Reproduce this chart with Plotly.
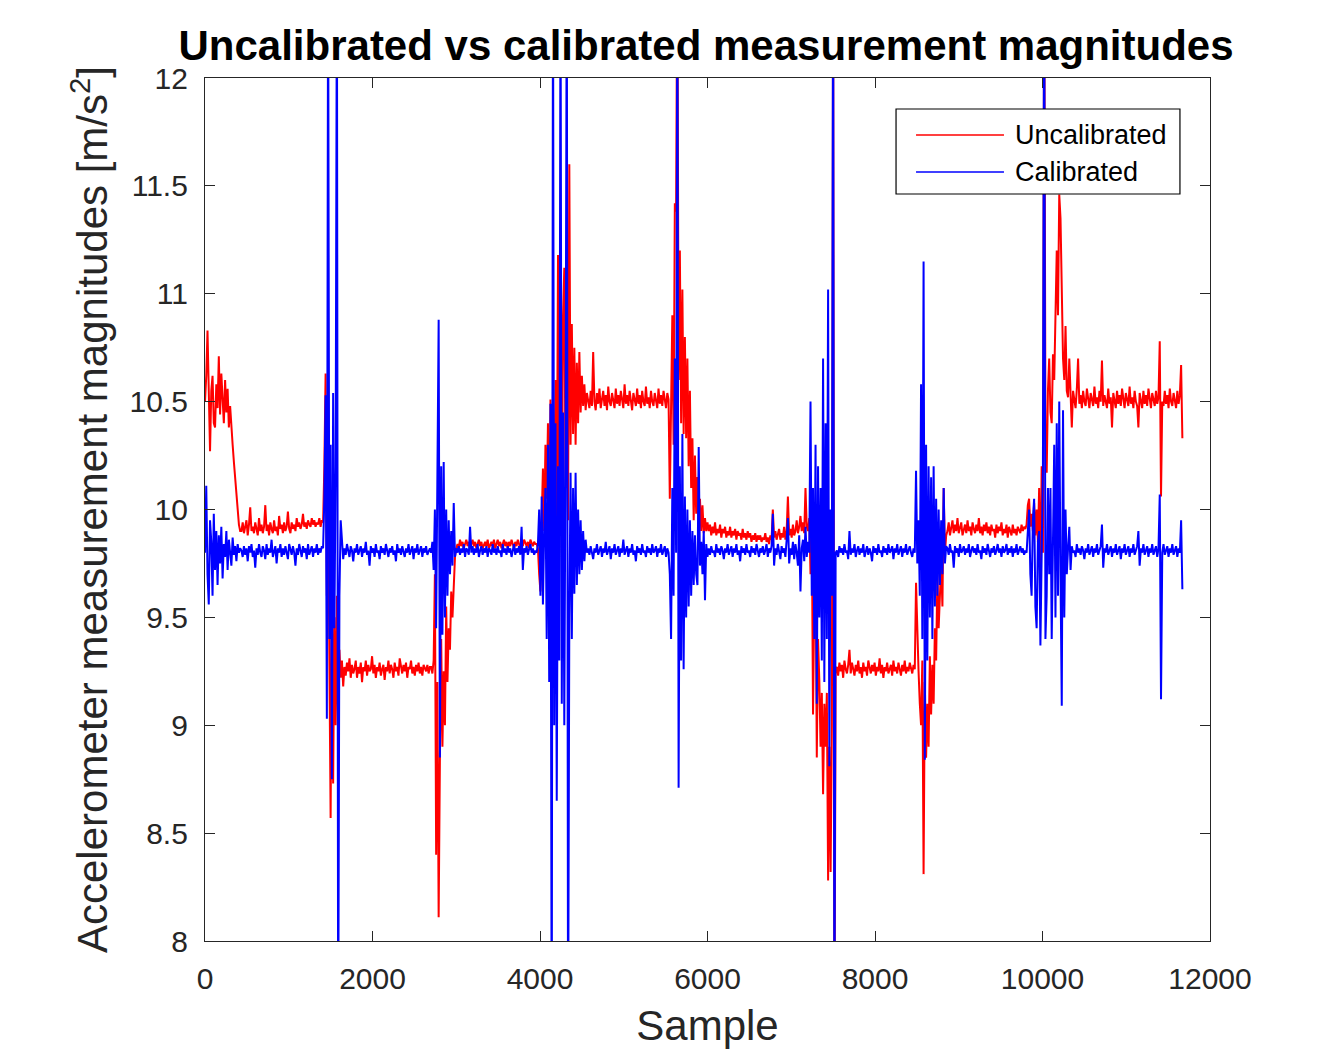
import plotly.graph_objects as go

STEP = 15  # samples between stored values inside each segment

# first sample number of each stored segment
segment_starts = [0, 435, 1410, 1635, 2700, 3015, 3960, 4575,
                  5550, 6015, 7230, 7545, 8490, 8865, 9810, 10305]

# ---------------- Uncalibrated magnitudes ----------------
uncal_s01 = [10.50, 10.62, 10.83, 10.45, 10.27, 10.55, 10.62, 10.40, 10.38, 10.58,
             10.47, 10.71, 10.44, 10.63, 10.52, 10.40, 10.60, 10.45, 10.56, 10.38,
             10.48, 10.36, 10.30, 10.22, 10.15, 10.06, 9.98, 9.93, 9.90]
uncal_s02 = [9.90, 9.94, 9.89, 9.92, 9.95, 9.88, 9.93, 10.01, 9.90, 9.92,
             9.89, 9.94, 9.91, 9.88, 9.96, 9.90, 9.93, 9.89, 9.92, 10.02,
             9.90, 9.93, 9.88, 9.94, 9.91, 9.89, 9.95, 9.90, 9.92, 9.88,
             9.97, 9.91, 9.93, 9.89, 9.94, 9.90, 9.92, 9.99, 9.91, 9.89,
             9.94, 9.91, 9.93, 9.90, 9.96, 9.92, 9.94, 9.91, 9.93, 9.98,
             9.92, 9.94, 9.91, 9.95, 9.93, 9.92, 9.96, 9.93, 9.95, 9.92,
             9.94, 9.93, 9.96, 9.92, 9.95]
uncal_s03 = [9.94, 10.20, 10.63, 9.60, 10.10, 9.30, 8.57, 9.70, 8.73, 9.50,
             9.00, 9.60, 8.95, 9.35, 9.22]
uncal_s04 = [9.30, 9.18, 9.27, 9.23, 9.29, 9.25, 9.31, 9.22, 9.28, 9.24,
             9.26, 9.30, 9.22, 9.27, 9.24, 9.29, 9.20, 9.27, 9.25, 9.30,
             9.23, 9.28, 9.25, 9.26, 9.32, 9.24, 9.28, 9.22, 9.27, 9.25,
             9.29, 9.23, 9.26, 9.28, 9.21, 9.27, 9.25, 9.30, 9.24, 9.28,
             9.26, 9.22, 9.29, 9.25, 9.27, 9.23, 9.31, 9.26, 9.24, 9.28,
             9.25, 9.29, 9.22, 9.27, 9.26, 9.30, 9.24, 9.27, 9.23, 9.28,
             9.25, 9.29, 9.24, 9.27, 9.23, 9.28, 9.26, 9.25, 9.28, 9.24,
             9.27]
uncal_s05 = [9.27, 9.24, 9.30, 9.70, 8.40, 9.20, 8.11, 8.85, 9.40, 8.90,
             9.25, 9.00, 9.55, 9.20, 9.45, 9.35, 9.62, 9.50, 9.70, 9.78,
             9.82]
uncal_s06 = [9.84, 9.82, 9.86, 9.83, 9.85, 9.82, 9.84, 9.86, 9.83, 9.85,
             9.82, 9.84, 9.86, 9.83, 9.85, 9.82, 9.84, 9.86, 9.83, 9.85,
             9.82, 9.84, 9.85, 9.83, 9.86, 9.82, 9.84, 9.85, 9.83, 9.86,
             9.82, 9.84, 9.86, 9.83, 9.85, 9.82, 9.84, 9.86, 9.83, 9.85,
             9.82, 9.85, 9.83, 9.86, 9.84, 9.82, 9.85, 9.83, 9.86, 9.84,
             9.82, 9.85, 9.83, 9.86, 9.84, 9.83, 9.85, 9.82, 9.86, 9.84,
             9.83, 9.85, 9.84]
uncal_s07 = [9.84, 9.82, 9.70, 9.62, 9.95, 10.19, 9.90, 10.30, 10.05, 10.40,
             9.80, 10.51, 9.60, 10.55, 9.75, 10.60, 9.90, 11.18, 10.00, 10.70,
             9.80, 10.90, 11.12, 10.10, 10.60, 9.95, 11.60, 10.30, 10.86, 10.35,
             10.75, 10.30, 10.68, 10.40, 10.73, 10.45, 10.62, 10.48, 10.58, 10.46,
             10.54]
uncal_s08 = [10.50, 10.47, 10.55, 10.48, 10.73, 10.50, 10.46, 10.54, 10.49, 10.56,
             10.47, 10.52, 10.55, 10.48, 10.53, 10.46, 10.57, 10.50, 10.48, 10.54,
             10.51, 10.47, 10.56, 10.49, 10.53, 10.48, 10.55, 10.50, 10.47, 10.58,
             10.49, 10.53, 10.48, 10.55, 10.50, 10.46, 10.54, 10.51, 10.48, 10.56,
             10.49, 10.53, 10.47, 10.55, 10.50, 10.48, 10.57, 10.49, 10.52, 10.47,
             10.55, 10.50, 10.48, 10.54, 10.51, 10.47, 10.56, 10.49, 10.53, 10.48,
             10.55, 10.50, 10.47, 10.54, 10.51]
uncal_s09 = [10.05, 10.50, 10.90, 10.30, 11.42, 11.38, 12.6, 10.60, 11.20, 10.40,
             11.02, 10.35, 10.80, 10.33, 10.70, 10.20, 10.55, 10.10, 10.33, 9.95,
             10.25, 9.98, 10.15, 9.92, 10.05, 9.90, 10.02, 9.89, 9.96, 9.90,
             9.94]
uncal_s10 = [9.90, 9.93, 9.88, 9.92, 9.89, 9.94, 9.88, 9.91, 9.89, 9.93,
             9.87, 9.91, 9.89, 9.92, 9.87, 9.90, 9.88, 9.92, 9.87, 9.90,
             9.88, 9.91, 9.86, 9.90, 9.88, 9.89, 9.86, 9.91, 9.87, 9.89,
             9.86, 9.90, 9.87, 9.89, 9.85, 9.88, 9.86, 9.89, 9.85, 9.88,
             9.86, 9.88, 9.85, 9.87, 9.86, 9.89, 9.85, 9.87, 9.84, 9.88,
             9.86, 10.00, 9.87, 9.90, 9.86, 9.88, 9.91, 9.86, 9.89, 9.87,
             9.92, 9.86, 9.90, 10.06, 9.88, 9.91, 9.87, 9.93, 9.88, 9.90,
             9.95, 9.89, 9.92, 9.97, 9.90, 9.94, 9.89, 10.10, 9.92, 9.90,
             9.96]
uncal_s11 = [9.70, 9.95, 9.05, 9.60, 9.75, 8.85, 9.40, 9.21, 8.90, 9.15,
             8.68, 9.10, 8.90, 9.15, 8.28, 8.90, 8.32, 9.00, 12.6, 7.4,
             9.26]
uncal_s12 = [9.27, 9.23, 9.29, 9.25, 9.28, 9.22, 9.30, 9.26, 9.24, 9.28,
             9.35, 9.24, 9.29, 9.26, 9.23, 9.28, 9.25, 9.30, 9.24, 9.27,
             9.22, 9.29, 9.25, 9.27, 9.23, 9.30, 9.26, 9.24, 9.28, 9.25,
             9.29, 9.23, 9.27, 9.25, 9.31, 9.24, 9.28, 9.22, 9.27, 9.25,
             9.29, 9.24, 9.26, 9.28, 9.23, 9.30, 9.25, 9.27, 9.24, 9.29,
             9.26, 9.23, 9.28, 9.25, 9.30, 9.24, 9.27, 9.25, 9.29, 9.26,
             9.24, 9.28, 9.26]
uncal_s13 = [9.66, 9.40, 9.25, 9.10, 9.00, 9.30, 8.31, 9.20, 8.85, 9.10,
             8.90, 9.32, 9.05, 9.28, 9.10, 9.45, 9.30, 9.70, 9.45, 9.60,
             9.75, 9.55, 10.10, 9.80, 9.88]
uncal_s14 = [9.90, 9.94, 9.88, 9.92, 9.95, 9.89, 9.93, 9.90, 9.96, 9.89,
             9.92, 9.94, 9.88, 9.91, 9.93, 9.89, 9.95, 9.90, 9.92, 9.88,
             9.94, 9.91, 9.89, 9.93, 9.90, 9.96, 9.89, 9.92, 9.88, 9.93,
             9.90, 9.94, 9.89, 9.92, 9.88, 9.93, 9.90, 9.91, 9.87, 9.93,
             9.89, 9.92, 9.90, 9.94, 9.88, 9.91, 9.89, 9.93, 9.87, 9.92,
             9.90, 9.88, 9.93, 9.89, 9.91, 9.88, 9.92, 9.90, 9.89, 9.93,
             9.90, 9.92, 9.91]
uncal_s15 = [9.93, 10.02, 10.05, 9.92, 9.98, 9.90, 10.03, 9.88, 10.00, 9.85,
             10.10, 9.56, 10.20, 9.80, 12.6, 10.38, 10.17, 10.55, 10.70, 10.45,
             10.40, 10.72, 10.60, 11.00, 11.20, 10.90, 11.46, 11.35, 11.10, 10.70,
             10.60, 10.85, 10.55]
uncal_s16 = [10.52, 10.70, 10.48, 10.38, 10.55, 10.50, 10.47, 10.56, 10.70, 10.49,
             10.53, 10.47, 10.55, 10.50, 10.48, 10.56, 10.51, 10.47, 10.54, 10.50,
             10.48, 10.57, 10.49, 10.52, 10.47, 10.55, 10.50, 10.69, 10.48, 10.53,
             10.50, 10.47, 10.56, 10.49, 10.52, 10.38, 10.54, 10.50, 10.47, 10.55,
             10.49, 10.53, 10.48, 10.56, 10.50, 10.47, 10.54, 10.51, 10.48, 10.57,
             10.49, 10.52, 10.47, 10.55, 10.50, 10.48, 10.38, 10.54, 10.50, 10.47,
             10.55, 10.49, 10.53, 10.48, 10.56, 10.50, 10.47, 10.54, 10.51, 10.48,
             10.55, 10.49, 10.52, 10.78, 10.06, 10.50, 10.48, 10.55, 10.49, 10.53,
             10.47, 10.56, 10.50, 10.48, 10.54, 10.51, 10.47, 10.55, 10.49, 10.53,
             10.67, 10.33]

# ---------------- Calibrated magnitudes ----------------
cal_s01 = [9.80, 10.11, 9.70, 9.56, 9.95, 9.85, 9.60, 9.98, 9.72, 9.90,
           9.65, 9.88, 9.75, 9.92, 9.68, 9.84, 9.78, 9.90, 9.72, 9.86,
           9.80, 9.74, 9.87, 9.79, 9.83, 9.76, 9.84, 9.80, 9.82]
cal_s02 = [9.81, 9.78, 9.83, 9.79, 9.82, 9.76, 9.83, 9.80, 9.84, 9.78,
           9.81, 9.73, 9.82, 9.79, 9.84, 9.80, 9.78, 9.83, 9.81, 9.77,
           9.84, 9.79, 9.82, 9.80, 9.86, 9.78, 9.81, 9.83, 9.75, 9.82,
           9.80, 9.84, 9.78, 9.82, 9.79, 9.83, 9.80, 9.77, 9.84, 9.81,
           9.79, 9.83, 9.80, 9.74, 9.82, 9.79, 9.84, 9.81, 9.78, 9.83,
           9.80, 9.82, 9.77, 9.84, 9.79, 9.81, 9.83, 9.78, 9.82, 9.80,
           9.84, 9.79, 9.82, 9.80, 9.83]
cal_s03 = [9.82, 10.05, 10.53, 9.03, 12.6, 9.40, 10.30, 8.75, 10.54, 9.45,
           10.20, 12.6, 7.4, 9.60, 9.95]
cal_s04 = [9.83, 9.77, 9.82, 9.79, 9.84, 9.80, 9.78, 9.83, 9.81, 9.76,
           9.82, 9.80, 9.84, 9.79, 9.81, 9.83, 9.78, 9.82, 9.80, 9.85,
           9.79, 9.81, 9.74, 9.83, 9.80, 9.82, 9.78, 9.84, 9.80, 9.81,
           9.77, 9.83, 9.80, 9.82, 9.79, 9.84, 9.81, 9.78, 9.82, 9.80,
           9.83, 9.79, 9.81, 9.76, 9.84, 9.80, 9.82, 9.79, 9.83, 9.81,
           9.78, 9.82, 9.80, 9.84, 9.79, 9.81, 9.83, 9.77, 9.82, 9.80,
           9.84, 9.79, 9.81, 9.83, 9.78, 9.82, 9.80, 9.83, 9.79, 9.81,
           9.82]
cal_s05 = [9.80, 9.85, 9.72, 10.00, 9.45, 10.30, 10.88, 8.85, 10.20, 9.42,
           10.22, 9.50, 10.00, 9.60, 9.95, 9.70, 9.90, 9.74, 10.03, 9.78,
           9.82]
cal_s06 = [9.80, 9.83, 9.79, 9.82, 9.80, 9.84, 9.78, 9.82, 9.81, 9.79,
           9.92, 9.80, 9.83, 9.79, 9.82, 9.80, 9.84, 9.78, 9.81, 9.83,
           9.79, 9.82, 9.80, 9.83, 9.78, 9.82, 9.81, 9.79, 9.84, 9.80,
           9.82, 9.79, 9.83, 9.80, 9.81, 9.78, 9.84, 9.80, 9.82, 9.79,
           9.83, 9.80, 9.82, 9.78, 9.81, 9.84, 9.79, 9.82, 9.80, 9.83,
           9.79, 9.92, 9.72, 9.82, 9.80, 9.83, 9.79, 9.81, 9.84, 9.80,
           9.82, 9.79, 9.81]
cal_s07 = [9.80, 9.84, 10.00, 9.60, 10.06, 9.56, 9.90, 10.10, 9.40, 10.30,
           9.20, 10.49, 7.4, 12.6, 9.00, 10.40, 8.65, 10.20, 9.30, 12.6,
           9.10, 10.45, 9.00, 10.30, 12.6, 7.4, 9.50, 10.17, 9.40, 10.10,
           9.61, 10.17, 9.65, 10.00, 9.70, 9.95, 9.72, 9.90, 9.76, 9.86,
           9.80]
cal_s08 = [9.82, 9.79, 9.83, 9.80, 9.77, 9.82, 9.80, 9.84, 9.79, 9.81,
           9.83, 9.78, 9.82, 9.80, 9.85, 9.79, 9.81, 9.83, 9.77, 9.82,
           9.80, 9.84, 9.79, 9.81, 9.83, 9.78, 9.82, 9.80, 9.86, 9.79,
           9.81, 9.83, 9.78, 9.82, 9.80, 9.84, 9.79, 9.81, 9.76, 9.83,
           9.80, 9.82, 9.79, 9.84, 9.80, 9.81, 9.78, 9.83, 9.80, 9.82,
           9.79, 9.84, 9.80, 9.81, 9.83, 9.78, 9.82, 9.80, 9.84, 9.79,
           9.81, 9.83, 9.78, 9.82, 9.80]
cal_s09 = [9.70, 9.40, 10.10, 9.60, 10.70, 9.80, 12.6, 8.71, 10.20, 9.30,
           10.35, 9.26, 10.06, 9.50, 10.00, 9.55, 9.95, 9.60, 9.90, 9.65,
           9.88, 9.70, 9.65, 10.29, 9.74, 9.85, 9.70, 9.90, 9.58, 9.84,
           9.78]
cal_s10 = [9.82, 9.79, 9.83, 9.80, 9.81, 9.78, 9.84, 9.80, 9.82, 9.79,
           9.83, 9.81, 9.77, 9.82, 9.80, 9.84, 9.79, 9.81, 9.83, 9.78,
           9.82, 9.80, 9.84, 9.79, 9.81, 9.76, 9.83, 9.80, 9.82, 9.79,
           9.84, 9.80, 9.81, 9.78, 9.83, 9.80, 9.82, 9.79, 9.84, 9.81,
           9.78, 9.82, 9.80, 9.83, 9.79, 9.81, 9.84, 9.78, 9.82, 9.80,
           9.83, 9.98, 9.74, 9.82, 9.79, 9.84, 9.80, 9.77, 9.83, 9.80,
           9.82, 9.78, 9.86, 9.96, 9.75, 9.82, 9.79, 9.85, 9.77, 9.84,
           9.80, 9.74, 9.88, 9.62, 9.82, 9.86, 9.76, 9.92, 9.78, 9.85,
           9.80]
cal_s11 = [10.50, 9.60, 10.10, 9.40, 10.30, 9.10, 10.20, 9.50, 10.10, 9.30,
           10.70, 9.20, 10.40, 9.40, 11.02, 8.81, 10.00, 9.60, 12.6, 7.4,
           9.80]
cal_s12 = [9.81, 9.78, 9.83, 9.80, 9.82, 9.79, 9.84, 9.80, 9.81, 9.77,
           9.90, 9.79, 9.82, 9.80, 9.84, 9.78, 9.81, 9.83, 9.79, 9.82,
           9.80, 9.84, 9.78, 9.81, 9.83, 9.79, 9.82, 9.80, 9.76, 9.83,
           9.80, 9.82, 9.79, 9.84, 9.80, 9.81, 9.78, 9.83, 9.80, 9.82,
           9.79, 9.84, 9.80, 9.81, 9.83, 9.77, 9.82, 9.80, 9.84, 9.79,
           9.81, 9.83, 9.78, 9.82, 9.80, 9.84, 9.79, 9.81, 9.83, 9.80,
           9.78, 9.82, 9.80]
cal_s13 = [10.18, 9.75, 9.95, 9.60, 10.58, 9.40, 11.15, 8.84, 10.30, 9.30,
           10.20, 9.50, 10.15, 9.40, 10.20, 9.55, 10.05, 9.60, 10.00, 9.65,
           9.95, 9.70, 10.10, 9.75, 9.83]
cal_s14 = [9.82, 9.79, 9.84, 9.80, 9.81, 9.73, 9.83, 9.80, 9.82, 9.78,
           9.84, 9.80, 9.81, 9.83, 9.79, 9.82, 9.80, 9.84, 9.78, 9.81,
           9.83, 9.80, 9.82, 9.79, 9.84, 9.80, 9.81, 9.77, 9.83, 9.80,
           9.82, 9.79, 9.84, 9.81, 9.78, 9.82, 9.80, 9.83, 9.79, 9.81,
           9.84, 9.80, 9.82, 9.78, 9.83, 9.80, 9.81, 9.84, 9.79, 9.82,
           9.80, 9.83, 9.78, 9.82, 9.80, 9.84, 9.79, 9.81, 9.83, 9.80,
           9.82, 9.79, 9.81]
cal_s15 = [9.80, 9.90, 10.00, 9.70, 9.60, 9.95, 10.05, 9.55, 9.45, 9.85,
           9.90, 9.37, 9.80, 10.20, 12.6, 9.40, 9.60, 10.10, 9.70, 10.10,
           9.40, 10.00, 10.30, 9.50, 10.40, 9.60, 10.50, 9.70, 9.09, 10.46,
           9.50, 10.00, 9.70]
cal_s16 = [9.82, 9.92, 9.72, 9.83, 9.80, 9.81, 9.78, 9.84, 9.80, 9.82,
           9.79, 9.83, 9.81, 9.77, 9.82, 9.80, 9.84, 9.79, 9.81, 9.83,
           9.78, 9.82, 9.80, 9.84, 9.79, 9.81, 9.83, 9.93, 9.73, 9.82,
           9.80, 9.84, 9.79, 9.81, 9.83, 9.78, 9.82, 9.80, 9.84, 9.79,
           9.81, 9.83, 9.77, 9.82, 9.80, 9.84, 9.79, 9.81, 9.83, 9.78,
           9.82, 9.80, 9.84, 9.79, 9.81, 9.83, 9.90, 9.74, 9.82, 9.80,
           9.84, 9.79, 9.81, 9.83, 9.78, 9.82, 9.80, 9.84, 9.79, 9.81,
           9.83, 9.78, 9.82, 10.07, 9.12, 9.80, 9.84, 9.79, 9.81, 9.83,
           9.78, 9.82, 9.80, 9.84, 9.79, 9.81, 9.83, 9.78, 9.82, 9.80,
           9.95, 9.63]

uncal_segments = [uncal_s01, uncal_s02, uncal_s03, uncal_s04, uncal_s05, uncal_s06,
                  uncal_s07, uncal_s08, uncal_s09, uncal_s10, uncal_s11, uncal_s12,
                  uncal_s13, uncal_s14, uncal_s15, uncal_s16]
cal_segments = [cal_s01, cal_s02, cal_s03, cal_s04, cal_s05, cal_s06,
                cal_s07, cal_s08, cal_s09, cal_s10, cal_s11, cal_s12,
                cal_s13, cal_s14, cal_s15, cal_s16]

x_ticks = [0, 2000, 4000, 6000, 8000, 10000, 12000]
y_ticks = [8, 8.5, 9, 9.5, 10, 10.5, 11, 11.5, 12]
series_names = ["Uncalibrated", "Calibrated"]
series_colors = ["#FF0000", "#0000FF"]


def join_segments(segments):
    xs, ys = [], []
    for start, vals in zip(segment_starts, segments):
        for k, v in enumerate(vals):
            xs.append(start + STEP * k)
            ys.append(v)
    return xs, ys


samples_u, uncalibrated = join_segments(uncal_segments)
samples_c, calibrated = join_segments(cal_segments)

FONT = "Liberation Sans, Arial, Helvetica, sans-serif"
AX = "#262626"

fig = go.Figure()
fig.add_trace(go.Scatter(x=samples_u, y=uncalibrated, mode="lines", name=series_names[0],
                         line=dict(color=series_colors[0], width=2.0), showlegend=False))
fig.add_trace(go.Scatter(x=samples_c, y=calibrated, mode="lines", name=series_names[1],
                         line=dict(color=series_colors[1], width=2.0), showlegend=False))

axis_common = dict(showline=True, linecolor=AX, linewidth=1.3, mirror="ticks",
                   ticks="inside", ticklen=10, tickwidth=1.2, tickcolor=AX,
                   showgrid=False, zeroline=False,
                   tickfont=dict(family=FONT, size=30, color=AX))

fig.update_xaxes(range=[0, 12000], tickvals=x_ticks, ticktext=[str(v) for v in x_ticks],
                 ticklabelstandoff=11,
                 title=dict(text="Sample", font=dict(family=FONT, size=42, color=AX), standoff=16),
                 **axis_common)
fig.update_yaxes(range=[8, 12], tickvals=y_ticks, ticktext=[f"{v:g}" for v in y_ticks],
                 ticklabelstandoff=10,
                 title=dict(text="Accelerometer measurement magnitudes [m/s<sup>2</sup>]",
                            font=dict(family=FONT, size=42, color=AX), standoff=8),
                 **axis_common)

# legend box drawn MATLAB style (long line samples)
lx0, lx1, ly0, ly1 = 0.6876, 0.9701, 0.8656, 0.9641
fig.add_shape(type="rect", xref="paper", yref="paper", x0=lx0, x1=lx1, y0=ly0, y1=ly1,
              line=dict(color="#000000", width=1.2), fillcolor="white", layer="above")
for name, color, yy in zip(series_names, series_colors, [0.9340, 0.8911]):
    fig.add_shape(type="line", xref="paper", yref="paper", x0=0.7075, x1=0.7950, y0=yy, y1=yy,
                  line=dict(color=color, width=1.5), layer="above")
    fig.add_annotation(xref="paper", yref="paper", x=0.804, y=yy, text=name, showarrow=False,
                       xanchor="left", yanchor="middle",
                       font=dict(family=FONT, size=27, color="#000000"))

fig.update_layout(
    width=1327, height=1049, autosize=False,
    margin=dict(l=197, r=125, t=70, b=116),
    paper_bgcolor="white", plot_bgcolor="white",
    title=dict(text="<b>Uncalibrated vs calibrated measurement magnitudes</b>",
               font=dict(family=FONT, size=42, color="#000000"),
               x=0.526, xanchor="center", y=1 - 37 / 1049, yanchor="middle", yref="container"),
)

fig.write_html("out.html")
